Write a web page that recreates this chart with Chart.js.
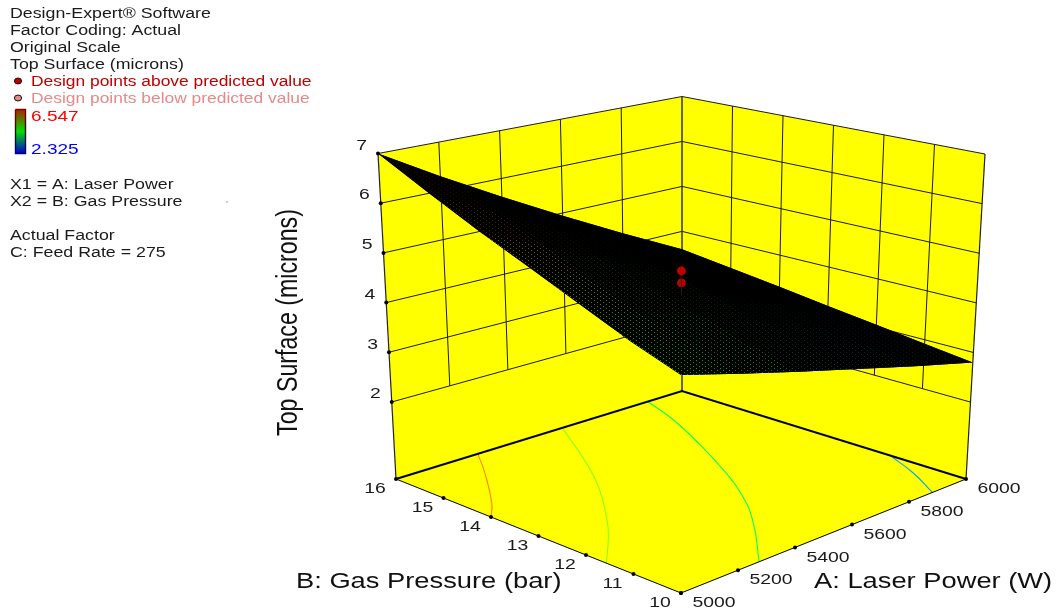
<!DOCTYPE html>
<html>
<head>
<meta charset="utf-8">
<title>Top Surface response plot</title>
<script src="https://cdn.jsdelivr.net/npm/chart.js@4"></script>
<style>
    html, body { margin: 0; padding: 0; background: #fff; }
    canvas { display: block; }
</style>
</head>
<body>
<canvas id="chart" width="1056" height="614"></canvas>
<script>
// values
const powerTicks = [5000, 5200, 5400, 5600, 5800, 6000];
const pressureTicks = [10, 11, 12, 13, 14, 15, 16];
const heightTicks = [2, 3, 4, 5, 6, 7];

// surface height, one row per power tick, one column per pressure tick
const surface5000 = [4.46, 4.78, 5.17, 5.58, 6.00, 6.48, 7.00];
const surface5200 = [4.13, 4.42, 4.72, 5.09, 5.48, 5.87, 6.30];
const surface5400 = [3.80, 4.04, 4.33, 4.58, 4.90, 5.25, 5.62];
const surface5600 = [3.47, 3.63, 3.85, 4.13, 4.37, 4.65, 4.94];
const surface5800 = [3.13, 3.27, 3.42, 3.60, 3.78, 4.04, 4.27];
const surface6000 = [2.80, 2.92, 3.05, 3.18, 3.32, 3.46, 3.60];
const surfaceRows = [surface5000, surface5200, surface5400, surface5600, surface5800, surface6000];

// contours on the floor, [power, pressure]
const contour6 = [[5286, 16], [5200, 15.33], [5066, 14.38], [5000, 14]];
const contour5 = [[5581, 16], [5460, 14.82], [5345, 13.81], [5200, 12.76], [5125, 12.28], [5000, 11.57]];
const contour4 = [[5880, 16], [5824, 15.11], [5738, 14.03], [5650, 13.01], [5558, 12.07], [5442, 11.13], [5274, 10]];
const contour3 = [[6000, 11.6], [5947, 10.79], [5882, 10]];

// design points at the centre of the factor space
const designPower = [5500, 5500];
const designPressure = [13, 13];
const designHeight = [4.77, 4.53];

const infoLines = ['Design-Expert\u00AE Software', 'Factor Coding: Actual', 'Original Scale', 'Top Surface (microns)'];
const factorLines = ['X1 = A: Laser Power', 'X2 = B: Gas Pressure'];
const actualLines = ['Actual Factor', 'C: Feed Rate = 275'];

// camera: where the corners of the box land on the page
const floorBase = 0.45;
const boxBottom = { front: [681, 593], right: [966, 479], left: [396, 479], back: [682, 391] };
const boxTop = { front: [681, 237], right: [985, 154], left: [378, 153.5], back: [682, 96.5] };
const textStretch = 1.27;

function mix(p, q, k) {
    return [p[0] + (q[0] - p[0]) * k, p[1] + (q[1] - p[1]) * k];
}

function project(power, pressure, height) {
    const u = (power - 5000) / 1000;
    const v = (pressure - 10) / 6;
    const t = (height - floorBase) / (7 - floorBase);
    const low = mix(mix(boxBottom.front, boxBottom.right, u), mix(boxBottom.left, boxBottom.back, u), v);
    const high = mix(mix(boxTop.front, boxTop.right, u), mix(boxTop.left, boxTop.back, u), v);
    const p = mix(low, high, t);
    return { x: p[0], y: p[1] };
}

function heightColor(z) {
    const t = Math.min(1, Math.max(0, (z - 2.325) / (6.547 - 2.325))) * 4;
    const stops = [[0, 0, 255], [0, 255, 255], [0, 255, 0], [255, 255, 0], [255, 0, 0]];
    const i = Math.min(3, Math.floor(t));
    const k = t - i;
    return [0, 1, 2].map(c => Math.round(stops[i][c] + (stops[i + 1][c] - stops[i][c]) * k));
}

// black mesh with coloured holes, one tile per surface cell
function meshPattern(ctx, rgb, alpha) {
    const tile = document.createElement('canvas');
    tile.width = 6;
    tile.height = 4;
    const t = tile.getContext('2d');
    t.fillStyle = '#000';
    t.fillRect(0, 0, 6, 4);
    t.fillStyle = 'rgba(' + rgb.join(',') + ',' + alpha + ')';
    t.fillRect(0, 0, 1, 1);
    t.fillRect(3, 2, 1, 1);
    return ctx.createPattern(tile, 'repeat');
}

const ctx = document.getElementById('chart').getContext('2d');
const layers = [];

function addLine(points, color, width, extra) {
    layers.push(Object.assign({
        data: points, showLine: true, borderColor: color, borderWidth: width,
        pointRadius: 0, tension: 0, fill: false
    }, extra || {}));
}

function addShape(points, fillStyle) {
    addLine(points, 'rgba(0,0,0,0)', 0, { fill: 'shape', backgroundColor: fillStyle });
}

// walls and floor
const minP = powerTicks[0], maxP = powerTicks[5], minB = pressureTicks[0], maxB = pressureTicks[6], topZ = 7;
addShape([project(minP, maxB, floorBase), project(minP, maxB, topZ), project(maxP, maxB, topZ), project(maxP, maxB, floorBase), project(minP, maxB, floorBase)], '#ffff00');
addShape([project(maxP, maxB, floorBase), project(maxP, maxB, topZ), project(maxP, minB, topZ), project(maxP, minB, floorBase), project(maxP, maxB, floorBase)], '#ffff00');
addShape([project(minP, minB, floorBase), project(maxP, minB, floorBase), project(maxP, maxB, floorBase), project(minP, maxB, floorBase), project(minP, minB, floorBase)], '#ffff00');

// wall grid stops at the lowest height tick
heightTicks.forEach(z => {
    addLine([project(minP, maxB, z), project(maxP, maxB, z)], '#1a1a1a', 1);
    addLine([project(maxP, maxB, z), project(maxP, minB, z)], '#1a1a1a', 1);
});
powerTicks.slice(1, 5).forEach(p => addLine([project(p, maxB, heightTicks[0]), project(p, maxB, topZ)], '#1a1a1a', 1));
pressureTicks.slice(1, 6).forEach(b => addLine([project(maxP, b, heightTicks[0]), project(maxP, b, topZ)], '#1a1a1a', 1));

// box edges
addLine([project(minP, maxB, floorBase), project(minP, maxB, topZ)], '#222', 1.2);
addLine([project(maxP, minB, floorBase), project(maxP, minB, topZ)], '#222', 1.2);
addLine([project(maxP, maxB, floorBase), project(maxP, maxB, topZ)], '#333', 1.5);

// floor contours
const contourColors = ['#ff8400', '#88ff20', '#00ff69', '#00a3ff'];
[contour6, contour5, contour4, contour3].forEach((c, i) => {
    addLine(c.map(q => project(q[0], q[1], floorBase)), contourColors[i], 1.1, { tension: 0.5 });
});

addLine([project(minP, maxB, floorBase), project(maxP, maxB, floorBase), project(maxP, minB, floorBase)], '#000', 2);
addLine([project(minP, maxB, floorBase), project(minP, minB, floorBase), project(maxP, minB, floorBase)], '#000', 1);

// surface: black base, then a cell for each pair of neighbouring ticks
const outline = [];
pressureTicks.forEach((b, j) => outline.push(project(minP, b, surfaceRows[0][j])));
powerTicks.forEach((p, i) => outline.push(project(p, maxB, surfaceRows[i][6])));
pressureTicks.slice().reverse().forEach((b, j) => outline.push(project(maxP, b, surfaceRows[5][6 - j])));
powerTicks.slice().reverse().forEach((p, i) => outline.push(project(p, minB, surfaceRows[5 - i][0])));
addShape(outline, '#000');

for (let i = 0; i < powerTicks.length - 1; i++) {
    for (let j = 0; j < pressureTicks.length - 1; j++) {
        const zs = [surfaceRows[i][j], surfaceRows[i + 1][j], surfaceRows[i + 1][j + 1], surfaceRows[i][j + 1]];
        const quad = [
            project(powerTicks[i], pressureTicks[j], zs[0]),
            project(powerTicks[i + 1], pressureTicks[j], zs[1]),
            project(powerTicks[i + 1], pressureTicks[j + 1], zs[2]),
            project(powerTicks[i], pressureTicks[j + 1], zs[3])
        ];
        const d1 = [quad[2].x - quad[0].x, quad[2].y - quad[0].y];
        const d2 = [quad[3].x - quad[1].x, quad[3].y - quad[1].y];
        const openArea = Math.abs(d1[0] * d2[1] - d1[1] * d2[0]) / 2 * 30 / 10000;
        const open = Math.max(0, (openArea - 2.9) / 3.6);
        const alpha = Math.min(0.8, Math.pow(open, 1.5));
        const mean = zs.reduce((s, z) => s + z, 0) / 4;
        addShape(quad.concat([quad[0]]), meshPattern(ctx, heightColor(mean), alpha.toFixed(2)));
    }
}

// axis tick dots
const tickDots = [];
heightTicks.forEach(z => tickDots.push(project(minP, maxB, z)));
powerTicks.forEach(p => tickDots.push(project(p, minB, floorBase)));
pressureTicks.forEach(b => tickDots.push(project(minP, b, floorBase)));
layers.push({ data: tickDots, showLine: false, pointRadius: 2, pointBackgroundColor: '#000', pointBorderWidth: 0 });

// design points
layers.push({
    data: designPower.map((p, i) => project(p, designPressure[i], designHeight[i])),
    showLine: false, pointRadius: 4.4, pointBackgroundColor: '#c00000', pointBorderWidth: 0
});
addLine([project(designPower[1], designPressure[1], 4.3), project(designPower[1], designPressure[1], designHeight[1] + 0.08)], '#222', 1);

// colour key
const keyGradient = ctx.createLinearGradient(0, 110, 0, 153);
keyGradient.addColorStop(0, '#a82800');
keyGradient.addColorStop(0.5, '#00e000');
keyGradient.addColorStop(1, '#0000d0');
const keyEdge = ctx.createLinearGradient(0, 110, 0, 153);
keyEdge.addColorStop(0, '#800000');
keyEdge.addColorStop(0.5, '#101010');
keyEdge.addColorStop(1, '#000080');
addLine([{ x: 15.5, y: 109.5 }, { x: 25.5, y: 109.5 }, { x: 25.5, y: 153.5 }, { x: 15.5, y: 153.5 }, { x: 15.5, y: 109.5 }],
    keyEdge, 1.4, { fill: 'shape', backgroundColor: keyGradient });

// stray speck beside the factor list
layers.push({ data: [{ x: 227, y: 202 }], showLine: false, pointStyle: 'rect', pointRadius: 0.8, pointBackgroundColor: '#555', pointBorderWidth: 0 });

// first in the list paints first
layers.forEach((d, i) => { d.order = layers.length - i; });

function put(c, text, x, y, size, color, align, stretch) {
    c.save();
    c.translate(x, y);
    c.scale(stretch || textStretch, 1);
    c.font = size + 'px "Liberation Sans", Arial, sans-serif';
    c.fillStyle = color;
    c.textAlign = align || 'left';
    c.textBaseline = 'middle';
    c.fillText(text, 0, 0);
    c.restore();
}

const textPlugin = {
    id: 'plotText',
    afterDraw(chart) {
        const c = chart.ctx;
        const sx = chart.scales.x, sy = chart.scales.y;
        const at = p => [sx.getPixelForValue(p.x), sy.getPixelForValue(p.y)];

        infoLines.forEach((t, i) => put(c, t, 10, 14 + i * 17, 14, '#1a1a1a'));
        factorLines.forEach((t, i) => put(c, t, 10, 185 + i * 17, 14, '#1a1a1a'));
        actualLines.forEach((t, i) => put(c, t, 10, 236 + i * 17, 14, '#1a1a1a'));

        put(c, 'Design points above predicted value', 31, 82, 14, '#c00000', 'left', 1.243);
        put(c, 'Design points below predicted value', 31, 99, 14, '#e58a8a', 'left', 1.243);
        [[18, 81, '#c00000'], [18, 98, '#e58a8a']].forEach(m => {
            c.beginPath();
            c.ellipse(m[0], m[1], 3.6, 3, 0, 0, Math.PI * 2);
            c.fillStyle = m[2];
            c.fill();
            c.lineWidth = 1;
            c.strokeStyle = '#111';
            c.stroke();
        });
        put(c, '6.547', 31, 117, 15, '#ff0000');
        put(c, '2.325', 31, 150, 15, '#0000ff');

        heightTicks.forEach(z => {
            const q = at(project(minP, maxB, z));
            put(c, String(z), q[0] - 11, q[1] - 8, 15.5, '#1a1a1a', 'right', 1.25);
        });
        powerTicks.forEach(p => {
            const q = at(project(p, minB, floorBase));
            put(c, String(p), q[0] + 33, q[1] + 10, 15.5, '#1a1a1a', 'center', 1.25);
        });
        pressureTicks.forEach(b => {
            const q = at(project(minP, b, floorBase));
            put(c, String(b), q[0] - 21, q[1] + 10, 15.5, '#1a1a1a', 'center', 1.25);
        });

        put(c, 'B: Gas Pressure (bar)', 296, 582, 21.5, '#111', 'left', 1.27);
        put(c, 'A: Laser Power (W)', 814, 582, 21.5, '#111');

        c.save();
        c.translate(288.5, 322.5);
        c.scale(textStretch, 1);
        c.rotate(-Math.PI / 2);
        c.font = '23.2px "Liberation Sans", Arial, sans-serif';
        c.fillStyle = '#111';
        c.textAlign = 'center';
        c.textBaseline = 'middle';
        c.fillText('Top Surface (microns)', 0, 0);
        c.restore();
    }
};

const plot = new Chart(ctx, {
    type: 'scatter',
    data: { datasets: layers },
    options: {
        responsive: false,
        animation: false,
        devicePixelRatio: 1,
        layout: { padding: 0, autoPadding: false },
        plugins: { legend: { display: false }, tooltip: { enabled: false } },
        scales: {
            x: { type: 'linear', min: 0, max: 1056, display: false },
            y: { type: 'linear', min: 0, max: 614, reverse: true, display: false }
        }
    },
    plugins: [textPlugin]
});
</script>
</body>
</html>
